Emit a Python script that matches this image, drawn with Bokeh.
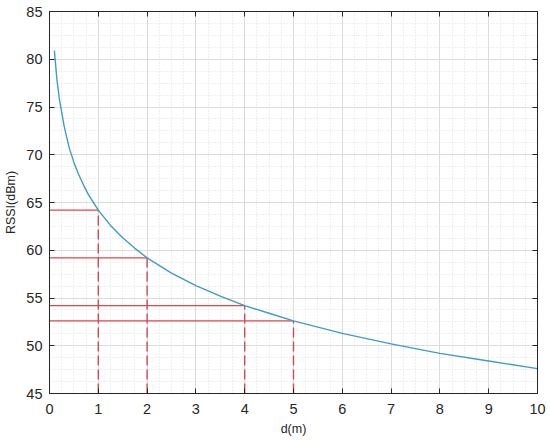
from bokeh.plotting import figure
from bokeh.models import LinearAxis, Range1d, FixedTicker
from bokeh.embed import file_html
from bokeh.resources import INLINE

# Curve
d_m = [0.1, 0.15, 0.2, 0.3, 0.4, 0.5, 0.6, 0.7, 0.8, 0.9, 1.0, 1.25, 1.5, 1.75,
       2.0, 2.5, 3.0, 3.5, 4.0, 4.5, 5.0, 6.0, 7.0, 8.0, 9.0, 10.0]
rssi = [80.9, 78.0, 75.9, 73.0, 70.8, 69.2, 67.9, 66.8, 65.8, 65.0, 64.2, 62.6, 61.3, 60.2,
        59.2, 57.6, 56.3, 55.2, 54.2, 53.4, 52.6, 51.3, 50.2, 49.2, 48.4, 47.6]

# Marked distances
mark_d = [1, 2, 4, 5]
mark_rssi = [64.2, 59.2, 54.2, 52.6]

x_ticks = [0, 1, 2, 3, 4, 5, 6, 7, 8, 9, 10]
y_ticks = [45, 50, 55, 60, 65, 70, 75, 80, 85]
X_MIN, X_MAX = 0, 10
Y_MIN, Y_MAX = 45, 85

FONT = "Liberation Sans"
AX = "#262626"

p = figure(width=550, height=445, output_backend="svg", toolbar_location=None,
           x_range=Range1d(X_MIN, X_MAX), y_range=Range1d(Y_MIN, Y_MAX),
           min_border_left=49, min_border_right=13, min_border_top=11, min_border_bottom=52,
           background_fill_color="white", border_fill_color="white")
p.outline_line_color = AX
p.outline_line_width = 1

for ax, ticks in ((p.xaxis[0], x_ticks), (p.yaxis[0], y_ticks)):
    ax.ticker = FixedTicker(ticks=ticks, minor_ticks=[])
    ax.major_tick_in = 5
    ax.major_tick_out = 0
    ax.minor_tick_in = 0
    ax.minor_tick_out = 0
    ax.axis_line_color = AX
    ax.major_tick_line_color = AX
    ax.major_label_text_font = FONT
    ax.major_label_text_font_size = "14.5px"
    ax.major_label_text_color = AX
    ax.axis_label_text_font = FONT
    ax.axis_label_text_font_size = "12.5px"
    ax.axis_label_text_font_style = "normal"
    ax.axis_label_text_color = AX

p.xaxis.axis_label = "d(m)"
p.yaxis.axis_label = "RSSI(dBm)"
p.xaxis.major_label_standoff = 10
p.yaxis.major_label_standoff = 7
p.xaxis.axis_label_standoff = 5
p.yaxis.axis_label_standoff = 5

# Grid: major solid, minor dotted
minor_x = [X_MIN + i * 0.25 for i in range(41)]
minor_y = [Y_MIN + i * 1.25 for i in range(33)]
p.xgrid.ticker = FixedTicker(ticks=x_ticks, minor_ticks=minor_x)
p.ygrid.ticker = FixedTicker(ticks=y_ticks, minor_ticks=minor_y)
for g in (p.xgrid, p.ygrid):
    g.grid_line_color = "#dcdcdc"
    g.grid_line_width = 1
    g.minor_grid_line_color = "#dedede"
    g.minor_grid_line_dash = "1 2"
    g.minor_grid_line_width = 1

# Extra axes (top/right) for the MATLAB-style box ticks
top = LinearAxis(ticker=FixedTicker(ticks=x_ticks, minor_ticks=[]),
                 major_tick_in=5, major_tick_out=0, minor_tick_in=0, minor_tick_out=0,
                 major_label_overrides={t: "" for t in x_ticks}, major_label_standoff=0,
                 axis_line_color=AX, major_tick_line_color=AX)
right = LinearAxis(ticker=FixedTicker(ticks=y_ticks, minor_ticks=[]),
                   major_tick_in=5, major_tick_out=0, minor_tick_in=0, minor_tick_out=0,
                   major_label_overrides={t: "" for t in y_ticks}, major_label_standoff=0,
                   axis_line_color=AX, major_tick_line_color=AX)
p.add_layout(top, "above")
p.add_layout(right, "right")

RED = "#e04646"
p.segment(x0=[X_MIN] * len(mark_d), y0=mark_rssi, x1=mark_d, y1=mark_rssi,
          line_color=RED, line_width=1.3)
p.segment(x0=mark_d, y0=[Y_MIN] * len(mark_d), x1=mark_d, y1=mark_rssi,
          line_color="#d04a50", line_width=1.4, line_dash="10 4")

p.line(d_m, rssi, line_color="#3f9cc6", line_width=1.4)

open("out.html", "w").write(file_html(p, INLINE))
